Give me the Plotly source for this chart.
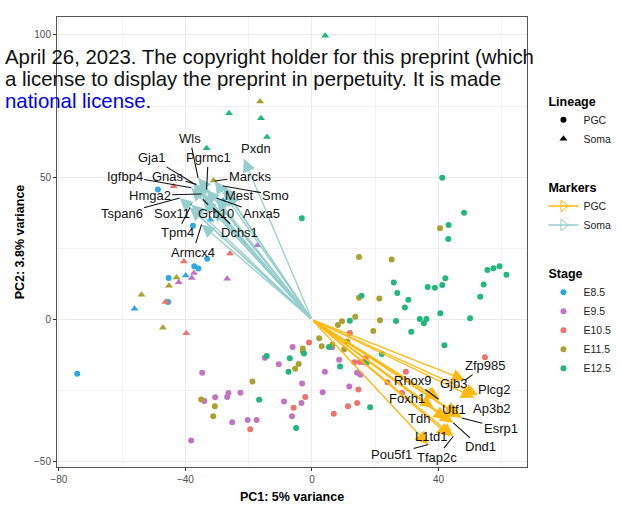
import plotly.graph_objects as go

# ---- sample scores ----
stages = ["E8.5", "E9.5", "E10.5", "E11.5", "E12.5"]
stage_colors = ["#2EA9E0", "#C274C4", "#F0726E", "#A9A232", "#22B77C"]

soma_pc1 = [-43.7, -31.1, -28.0, -32.1, -17.2, -25.9, -40.5, -39.9, -37.3, -38.0, -42.8, -42.1, -45.2,
            -26.8, -53.9, -46.3, -56.1, -47.1, -39.7, -16.4, -26.2, -16.1, -14.2, -33.3, 4.2]
soma_pc2 = [46.8, 48.9, 41.7, 35.1, 26.1, 23.2, 20.4, 15.5, 16.4, 14.6, 14.8, 13.1, 11.9,
            14.3, 8.7, 6.2, 3.8, -2.9, -4.8, 76.6, 72.5, 70.7, 64.1, 60.2, 99.7]
soma_stage = ["E10.5", "E11.5", "E8.5", "E8.5", "E9.5", "E10.5", "E10.5", "E8.5", "E9.5", "E9.5", "E11.5", "E9.5", "E11.5",
              "E9.5", "E11.5", "E10.5", "E8.5", "E11.5", "E10.5", "E11.5", "E12.5", "E12.5", "E12.5", "E12.5", "E12.5"]

pgc_e85_pc1 = [-48.7, -37.6, -33.1, -37.2, -35.9, -45.3, -45.5, -74.2]
pgc_e85_pc2 = [45.7, 33.0, 21.4, 18.7, 17.9, 14.6, 6.2, -19.0]
pgc_e95_pc1 = [-6.1, -14.9, -10.5, -34.7, -3.1, -22.6, -26.4, -26.8, -34.0, -30.6, -8.8, -3.3, -6.3, -20.3,
               -17.5, -25.2, -38.2, 6.4, 8.6, 4.1, 14.3, 15.4, 3.4, 11.8, 16.5]
pgc_e95_pc2 = [-9.6, -13.4, -15.7, -18.7, -22.5, -25.7, -25.8, -27.2, -28.6, -27.3, -28.8, -29.3, -34.0, -35.3,
               -35.3, -36.1, -42.5, -9.7, -14.1, -18.3, -18.7, -19.4, -25.5, -23.5, -15.0]
pgc_e105_pc1 = [-0.9, -2.1, -5.8, -19.5, 12.0, 13.4, 15.2, 17.0, 29.7, 14.7, 14.3, 11.4, 6.9, 23.9, 28.5, 54.7]
pgc_e105_pc2 = [-8.1, -27.2, -31.0, -38.5, -4.7, -15.0, -14.9, -13.6, -18.3, -24.6, -29.3, -30.5, -33.1, -22.0, -25.8, -13.2]
pgc_e115_pc1 = [-2.9, -2.9, -4.2, -5.3, -18.8, -35.0, -30.7, -31.2, 2.3, 3.1, 6.5, 10.2, 11.2, 19.4, 9.5, 8.2,
                13.7, 21.5, 14.9, 25.2, 14.9, 21.3, 40.5]
pgc_e115_pc2 = [-10.2, -11.1, -15.6, -17.3, -21.8, -28.1, -30.5, -34.0, -6.6, -9.4, -8.7, -10.4, -7.7, -4.0, -0.6, -1.9,
                1.0, -0.2, 22.0, 21.1, 7.7, 7.4, 32.1]
pgc_e125_pc1 = [-3.2, -2.5, -14.3, -7.0, -7.4, -16.7, -5.0, 5.4, 17.3, 8.9, 22.1, 18.4, 31.4, 41.9, 41.2, 48.1,
                43.2, 43.1, 55.5, 57.4, 59.3, 61.5, 25.9, 42.2, 41.2, 36.6, 38.9, 54.3, 27.0, 15.7, 30.5, 53.2,
                29.4, 40.6, 50.0, 34.1, 36.2, 35.4, 12.0, 26.6]
pgc_e125_pc2 = [35.6, -11.9, -12.8, -13.6, -18.3, -28.2, -38.1, -9.6, -15.2, -16.5, -12.1, -30.8, -4.3, -9.0, 49.8, 37.5,
                33.2, 28.3, 17.4, 18.0, 18.7, 15.7, 13.0, 14.5, 12.1, 11.4, 11.2, 12.3, 9.3, 8.4, 7.0, 8.0,
                4.2, 2.2, 0.5, 0.2, 0.2, -1.3, -0.4, -0.5]

# ---- marker gene loadings (arrow tips) and label positions ----
soma_genes = ["Wls", "Pxdn", "Gja1", "Pgrmc1", "Igfbp4", "Gnas", "Marcks", "Hmga2", "Mest", "Smo",
              "Tspan6", "Sox11", "Grb10", "Anxa5", "Tpm4", "Dchs1", "Armcx4"]
soma_tip_x = [-36.0, -21.5, -37.6, -33.3, -38.1, -36.5, -30.7, -34.9, -27.0, -28.1,
              -41.8, -38.1, -34.4, -30.2, -38.6, -31.2, -34.9]
soma_tip_y = [49.8, 56.5, 48.0, 45.7, 46.3, 47.5, 48.7, 44.1, 44.5, 46.9,
              42.7, 40.4, 42.2, 42.7, 39.3, 39.2, 33.4]
soma_lab_x = [-38.6, -17.8, -50.7, -32.8, -59.2, -45.5, -19.6, -51.3, -22.8, -11.4,
              -60.2, -44.4, -30.2, -15.9, -42.6, -22.8, -37.6]
soma_lab_y = [63.6, 60.0, 56.8, 56.8, 50.4, 50.4, 50.4, 43.7, 43.7, 43.7,
              37.1, 37.1, 37.1, 37.1, 30.5, 30.5, 23.7]
soma_seg = [True, False, True, True, True, True, True, True, False, True,
            True, True, True, True, True, True, True]

pgc_genes = ["Zfp985", "Rhox9", "Gjb3", "Plcg2", "Foxh1", "Ap3b2", "Utf1", "Tdh", "Esrp1",
             "L1td1", "Dnd1", "Pou5f1", "Tfap2c"]
pgc_tip_x = [48.4, 40.0, 40.5, 52.5, 38.4, 51.3, 46.3, 42.6, 47.4, 43.7, 44.7, 36.8, 44.7]
pgc_tip_y = [-21.3, -28.0, -28.1, -26.5, -31.0, -27.5, -33.4, -35.1, -34.6, -41.0, -36.3, -43.9, -41.0]
pgc_lab_x = [54.7, 32.1, 44.9, 57.6, 30.0, 56.9, 45.0, 33.9, 59.7, 37.9, 53.2, 25.2, 39.5]
pgc_lab_y = [-16.2, -21.4, -22.6, -24.4, -27.9, -31.3, -31.6, -34.6, -38.1, -41.2, -44.7, -47.4, -48.3]
pgc_seg = [True, True, False, False, False, False, False, False, True, False, True, True, True]

SOMA_COL = "#96CDCD"
PGC_COL = "#FFB90F"

W, H = 621, 518
ML, MR, MT, MB = 57, 94, 17, 51

fig = go.Figure()

pgc_groups = [
    ("E8.5", pgc_e85_pc1, pgc_e85_pc2),
    ("E9.5", pgc_e95_pc1, pgc_e95_pc2),
    ("E10.5", pgc_e105_pc1, pgc_e105_pc2),
    ("E11.5", pgc_e115_pc1, pgc_e115_pc2),
    ("E12.5", pgc_e125_pc1, pgc_e125_pc2),
]
col_of = dict(zip(stages, stage_colors))

# points: PGC circles
for st, xs, ys in pgc_groups:
    fig.add_trace(go.Scatter(x=xs, y=ys, mode="markers", showlegend=False, hoverinfo="skip",
                             marker=dict(symbol="circle", size=6, color=col_of[st])))
# points: Soma triangles
for st in stages:
    xs = [x for x, s in zip(soma_pc1, soma_stage) if s == st]
    ys = [y for y, s in zip(soma_pc2, soma_stage) if s == st]
    fig.add_trace(go.Scatter(x=xs, y=ys, mode="markers", showlegend=False, hoverinfo="skip",
                             marker=dict(symbol="triangle-up", size=7, color=col_of[st])))

# legend entries
fig.add_trace(go.Scatter(x=[None], y=[None], mode="markers", name="PGC", legendgroup="lin",
                         legendgrouptitle_text="<b>Lineage</b>", legendrank=1,
                         marker=dict(symbol="circle", size=6, color="black")))
fig.add_trace(go.Scatter(x=[None], y=[None], mode="markers", name="Soma", legendgroup="lin", legendrank=2,
                         marker=dict(symbol="triangle-up", size=7, color="black")))
fig.add_trace(go.Scatter(x=[None], y=[None], mode="lines+markers", name="PGC", legendgroup="mk",
                         legendgrouptitle_text="<b>Markers</b>", legendrank=3,
                         line=dict(color=PGC_COL, width=1.3),
                         marker=dict(symbol="triangle-right-open", size=10, color=PGC_COL)))
fig.add_trace(go.Scatter(x=[None], y=[None], mode="lines+markers", name="Soma", legendgroup="mk", legendrank=4,
                         line=dict(color=SOMA_COL, width=1.3),
                         marker=dict(symbol="triangle-right-open", size=10, color=SOMA_COL)))
for i, st in enumerate(stages):
    fig.add_trace(go.Scatter(x=[None], y=[None], mode="markers", name=st, legendgroup="stage",
                             legendgrouptitle_text="<b>Stage</b>" if i == 0 else None, legendrank=5 + i,
                             marker=dict(symbol="circle", size=6, color=col_of[st])))

annotations = []
# arrows from the origin
for tx, ty in zip(soma_tip_x, soma_tip_y):
    annotations.append(dict(x=tx, y=ty, ax=0, ay=0, xref="x", yref="y", axref="x", ayref="y", text="",
                            showarrow=True, arrowhead=2, arrowsize=2.0, arrowwidth=1.3, arrowcolor=SOMA_COL))
for tx, ty in zip(pgc_tip_x, pgc_tip_y):
    annotations.append(dict(x=tx, y=ty, ax=0, ay=0, xref="x", yref="y", axref="x", ayref="y", text="",
                            showarrow=True, arrowhead=2, arrowsize=2.0, arrowwidth=1.3, arrowcolor=PGC_COL))

# gene labels (with leader segments where the reference has them)
def add_labels(genes, tx, ty, lx, ly, seg):
    for g, x, y, ax, ay, s in zip(genes, tx, ty, lx, ly, seg):
        if s:
            annotations.append(dict(x=x, y=y, ax=ax, ay=ay, xref="x", yref="y", axref="x", ayref="y",
                                    text=g, showarrow=True, arrowhead=0, arrowwidth=1.1, arrowcolor="#111",
                                    standoff=0, font=dict(size=13, color="#111")))
        else:
            annotations.append(dict(x=ax, y=ay, xref="x", yref="y", text=g, showarrow=False,
                                    font=dict(size=13, color="#111")))

add_labels(soma_genes, soma_tip_x, soma_tip_y, soma_lab_x, soma_lab_y, soma_seg)
add_labels(pgc_genes, pgc_tip_x, pgc_tip_y, pgc_lab_x, pgc_lab_y, pgc_seg)

# preprint watermark overlay (pixel positions -> paper coords)
wm_font = dict(family="Liberation Sans, Arial, sans-serif", size=20.4, color="#111")
wm_lines = ["April 26, 2023. The copyright holder for this preprint (which",
            "a license to display the preprint in perpetuity. It is made",
            "<span style='color:#0000EE'>national license</span>."]
wm_px_y = [57, 79, 101]
for txt, py in zip(wm_lines, wm_px_y):
    annotations.append(dict(text=txt, xref="paper", yref="paper",
                            x=(3 - ML) / (W - ML - MR), y=1 - (py - MT) / (H - MT - MB),
                            showarrow=False, xanchor="left", yanchor="middle", font=wm_font))

fig.update_layout(
    width=W, height=H,
    margin=dict(l=ML, r=MR, t=MT, b=MB, autoexpand=False),
    paper_bgcolor="white", plot_bgcolor="white",
    font=dict(family="Liberation Sans, Arial, sans-serif", color="#333"),
    annotations=annotations,
    legend=dict(x=1.035, y=1 - (86 - MT) / (H - MT - MB), xanchor="left", yanchor="top",
                font=dict(size=10.5, color="#222"),
                tracegroupgap=29, itemwidth=30,
                grouptitlefont=dict(size=12.5, color="black")),
)
fig.update_xaxes(range=[-80.6, 68], tick0=0, dtick=40, ticks="outside", ticklen=3, tickcolor="#333",
                 tickfont=dict(size=10, color="#4D4D4D"), showgrid=True, gridcolor="#EBEBEB", gridwidth=1,
                 minor=dict(dtick=20, showgrid=True, gridcolor="#F3F3F3", gridwidth=0.6),
                 zeroline=False, showline=True, mirror=True, linecolor="#555", linewidth=1, automargin=False,
                 title=dict(text="<b>PC1: 5% variance</b>", font=dict(size=12.5, color="black"), standoff=8))
fig.update_yaxes(range=[-51.8, 106.3], tick0=0, dtick=50, ticks="outside", ticklen=3, tickcolor="#333",
                 tickfont=dict(size=10, color="#4D4D4D"), showgrid=True, gridcolor="#EBEBEB", gridwidth=1,
                 minor=dict(dtick=25, showgrid=True, gridcolor="#F3F3F3", gridwidth=0.6),
                 zeroline=False, showline=True, mirror=True, linecolor="#555", linewidth=1, automargin=False,
                 title=dict(text="<b>PC2: 3.8% variance</b>", font=dict(size=12.5, color="black"), standoff=6))

# drop the page's default body margin so the figure sits at the window origin
fig.write_html("out.html", config={"displayModeBar": False},
               post_script="document.body.style.margin='0';")
